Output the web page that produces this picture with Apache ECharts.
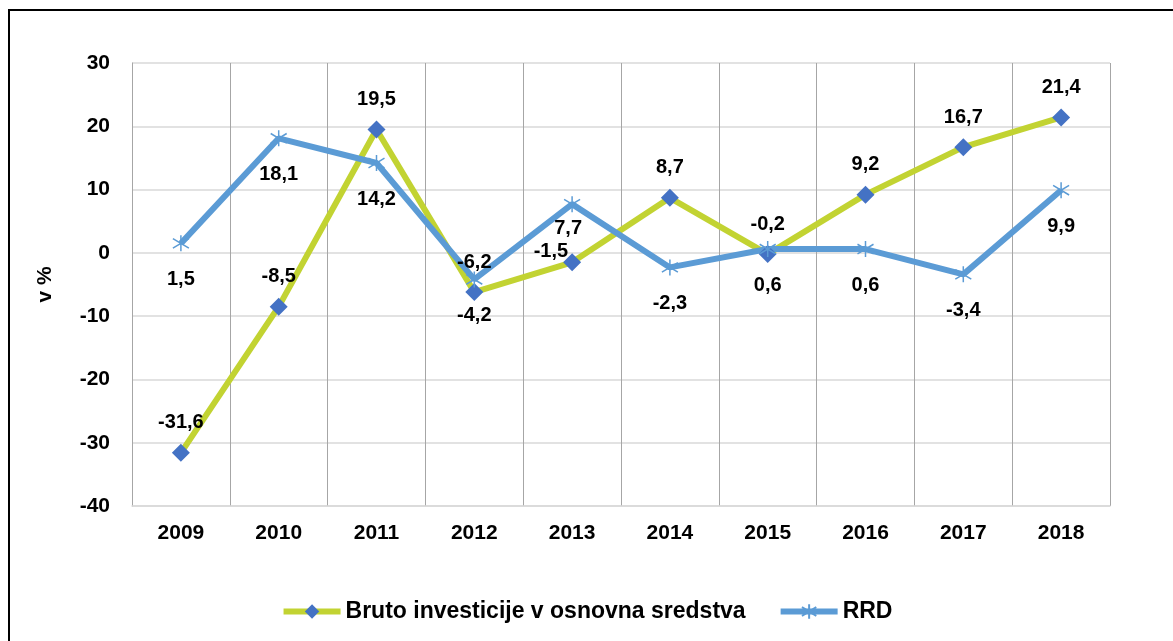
<!DOCTYPE html>
<html>
<head>
<meta charset="utf-8">
<script src="https://cdn.jsdelivr.net/npm/echarts@6/dist/echarts.min.js"></script>
<style>
  html, body { margin: 0; padding: 0; background: #fff; }
  #chart { width: 1173px; height: 641px; }
</style>
</head>
<body>
<div id="chart"></div>
<script>
  // podatki
  const years = ['2009', '2010', '2011', '2012', '2013', '2014', '2015', '2016', '2017', '2018']
  const bruto = [-31.6, -8.5, 19.5, -6.2, -1.5, 8.7, -0.2, 9.2, 16.7, 21.4]
  const rrd = [1.5, 18.1, 14.2, -4.2, 7.7, -2.3, 0.6, 0.6, -3.4, 9.9]
  const yTicks = [-40, -30, -20, -10, 0, 10, 20, 30]

  const fmt = p => String(p.value).replace('.', ',')
  const star = 'path://M10,0 L10,20 M1,4 L19,16 M1,16 L19,4'

  const chartDom = document.getElementById('chart')
  const myChart = echarts.init(chartDom)

  const font = (size) => ({ fontFamily: 'Liberation Sans', fontWeight: 'bold', fontSize: size, color: '#000' })

  const option = {
    backgroundColor: '#fff',
    animation: false,
    graphic: [{
      type: 'rect',
      shape: { x: 9, y: 10, width: 1200, height: 660 },
      style: { fill: 'none', stroke: '#000', lineWidth: 2 }
    }],
    grid: { left: 132, right: 63, top: 63, bottom: 135 },
    legend: {
      bottom: 13,
      left: 'center',
      itemWidth: 57,
      itemHeight: 18,
      itemGap: 32,
      lineStyle: { width: 6 },
      textStyle: font(23),
      data: ['Bruto investicije v osnovna sredstva', 'RRD']
    },
    xAxis: {
      type: 'category',
      data: years,
      boundaryGap: true,
      axisLine: { onZero: false, lineStyle: { color: '#d9d9d9', width: 1.5 } },
      axisTick: { show: false },
      axisLabel: Object.assign({ margin: 17 }, font(21)),
      splitLine: { show: true, lineStyle: { color: '#a6a6a6', width: 1 } }
    },
    yAxis: {
      type: 'value',
      min: yTicks[0],
      max: yTicks[yTicks.length - 1],
      interval: 10,
      name: 'v %',
      nameLocation: 'middle',
      nameGap: 76,
      nameRotate: 90,
      nameTextStyle: font(21),
      axisLine: { show: true, lineStyle: { color: '#a6a6a6' } },
      axisTick: { show: false },
      axisLabel: Object.assign({ margin: 22 }, font(21)),
      splitLine: { lineStyle: { color: '#d9d9d9', width: 1.5 } }
    },
    series: [{
      name: 'Bruto investicije v osnovna sredstva',
      type: 'line',
      data: bruto.map((v, i) => i === 4
        ? { value: v, label: { position: 'left', offset: [16, -11] } }
        : v),
      lineStyle: { color: '#c2d332', width: 6 },
      itemStyle: { color: '#4472c4' },
      symbol: 'diamond',
      symbolSize: 18,
      z: 2,
      label: Object.assign({ show: true, position: 'top', distance: 11, formatter: fmt }, font(20))
    }, {
      name: 'RRD',
      type: 'line',
      data: rrd.map((v, i) => i === 4
        ? { value: v, label: { offset: [-4, -12] } }
        : v),
      lineStyle: { color: '#5b9bd5', width: 6 },
      itemStyle: { color: 'none', borderColor: '#5b9bd5', borderWidth: 1.5 },
      symbol: star,
      symbolSize: 16,
      z: 2,
      label: Object.assign({ show: true, position: 'bottom', distance: 16, formatter: fmt }, font(20))
    }]
  }

  myChart.setOption(option)
</script>
</body>
</html>
